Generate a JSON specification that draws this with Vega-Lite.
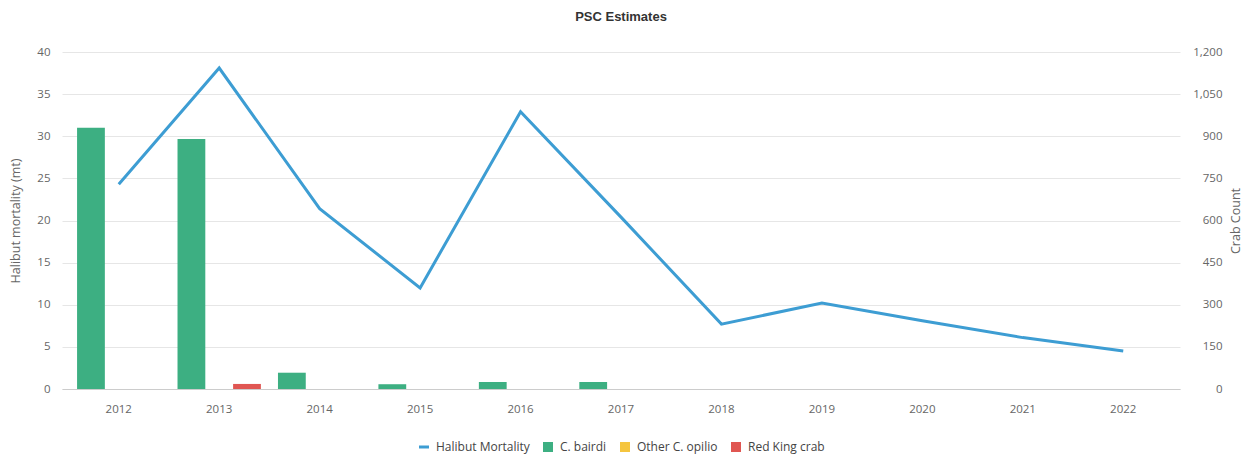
{
  "$schema": "https://vega.github.io/schema/vega-lite/v6.json",
  "width": 1118,
  "height": 337,
  "autosize": {"type": "none"},
  "padding": {"left": 62, "top": 52, "right": 70, "bottom": 66},
  "background": "white",
  "title": {"text": "PSC Estimates", "font": "Liberation Sans", "fontSize": 13, "fontWeight": "bold", "color": "#333333", "offset": 22, "anchor": "middle"},
  "config": {
    "view": {"stroke": null},
    "axis": {"labelFont": "Open Sans", "labelFontSize": 11.5, "labelColor": "#666666", "titleFont": "Open Sans", "titleFontSize": 12.5, "titleFontWeight": "normal", "titleColor": "#666666", "ticks": false, "domain": false, "gridColor": "#e6e6e6"}
  },
  "datasets": {
    "crab": [
      {"year": "2012", "series": "C. bairdi", "count": 930},
      {"year": "2012", "series": "Other C. opilio", "count": 0},
      {"year": "2012", "series": "Red King crab", "count": 0},
      {"year": "2013", "series": "C. bairdi", "count": 890},
      {"year": "2013", "series": "Other C. opilio", "count": 0},
      {"year": "2013", "series": "Red King crab", "count": 18},
      {"year": "2014", "series": "C. bairdi", "count": 58},
      {"year": "2014", "series": "Other C. opilio", "count": 0},
      {"year": "2014", "series": "Red King crab", "count": 0},
      {"year": "2015", "series": "C. bairdi", "count": 17},
      {"year": "2015", "series": "Other C. opilio", "count": 0},
      {"year": "2015", "series": "Red King crab", "count": 0},
      {"year": "2016", "series": "C. bairdi", "count": 25},
      {"year": "2016", "series": "Other C. opilio", "count": 0},
      {"year": "2016", "series": "Red King crab", "count": 0},
      {"year": "2017", "series": "C. bairdi", "count": 25},
      {"year": "2017", "series": "Other C. opilio", "count": 0},
      {"year": "2017", "series": "Red King crab", "count": 0},
      {"year": "2018", "series": "C. bairdi", "count": 0},
      {"year": "2018", "series": "Other C. opilio", "count": 0},
      {"year": "2018", "series": "Red King crab", "count": 0},
      {"year": "2019", "series": "C. bairdi", "count": 0},
      {"year": "2019", "series": "Other C. opilio", "count": 0},
      {"year": "2019", "series": "Red King crab", "count": 0},
      {"year": "2020", "series": "C. bairdi", "count": 0},
      {"year": "2020", "series": "Other C. opilio", "count": 0},
      {"year": "2020", "series": "Red King crab", "count": 0},
      {"year": "2021", "series": "C. bairdi", "count": 0},
      {"year": "2021", "series": "Other C. opilio", "count": 0},
      {"year": "2021", "series": "Red King crab", "count": 0},
      {"year": "2022", "series": "C. bairdi", "count": 0},
      {"year": "2022", "series": "Other C. opilio", "count": 0},
      {"year": "2022", "series": "Red King crab", "count": 0}
    ],
    "halibut": [
      {"year": "2012", "mortality": 24.3},
      {"year": "2013", "mortality": 38.1},
      {"year": "2014", "mortality": 21.4},
      {"year": "2015", "mortality": 12.0},
      {"year": "2016", "mortality": 32.9},
      {"year": "2017", "mortality": 20.4},
      {"year": "2018", "mortality": 7.7},
      {"year": "2019", "mortality": 10.2},
      {"year": "2020", "mortality": 8.1},
      {"year": "2021", "mortality": 6.1},
      {"year": "2022", "mortality": 4.5}
    ]
  },
  "layer": [
    {
      "data": {"name": "crab"},
      "mark": {"type": "bar"},
      "encoding": {
        "x": {"field": "year", "type": "nominal", "sort": null,
              "scale": {"paddingInner": 0.17, "paddingOuter": 0.15},
              "axis": {"title": null, "labelAngle": 0, "domain": true, "domainColor": "#cccccc", "labelPadding": 14, "grid": false}},
        "xOffset": {"field": "series", "type": "nominal", "sort": null, "scale": {"domain": ["C. bairdi", "Other C. opilio", "Red King crab"], "padding": 0}},
        "y": {"field": "count", "type": "quantitative",
              "scale": {"domain": [0, 1200], "nice": false},
              "axis": {"orient": "right", "title": "Crab Count", "values": [0, 150, 300, 450, 600, 750, 900, 1050, 1200], "format": ",.0f", "grid": false, "labelAlign": "right", "labelPadding": 42, "titleAngle": 270, "titlePadding": 20}},
        "color": {"field": "series", "type": "nominal",
                  "scale": {"domain": ["Halibut Mortality", "C. bairdi", "Other C. opilio", "Red King crab"], "range": ["#3d9dd3", "#3daf82", "#f5c53f", "#e05652"]},
                  "legend": {"orient": "none", "legendX": 356, "legendY": 389, "direction": "horizontal", "title": null,
                             "symbolType": "square", "symbolSize": 100, "labelFont": "Open Sans", "labelFontSize": 12, "labelColor": "#444444", "columnPadding": 12, "labelOffset": 6,
                             "encode": {"symbols": {"update": {
                               "shape": {"signal": "datum.value === 'Halibut Mortality' ? 'stroke' : 'square'"},
                               "stroke": {"signal": "scale('color', datum.value)"},
                               "strokeWidth": {"signal": "datum.value === 'Halibut Mortality' ? 3 : 0"}
                             }}}}}
      }
    },
    {
      "data": {"name": "halibut"},
      "mark": {"type": "line", "strokeWidth": 3},
      "encoding": {
        "x": {"field": "year", "type": "nominal", "sort": null},
        "y": {"field": "mortality", "type": "quantitative",
              "scale": {"domain": [0, 40], "nice": false},
              "axis": {"orient": "left", "title": "Halibut mortality (mt)", "values": [0, 5, 10, 15, 20, 25, 30, 35, 40], "grid": true, "labelPadding": 12, "titlePadding": 14}},
        "color": {"datum": "Halibut Mortality"}
      }
    }
  ],
  "resolve": {"scale": {"y": "independent"}, "axis": {"y": "independent"}}
}
